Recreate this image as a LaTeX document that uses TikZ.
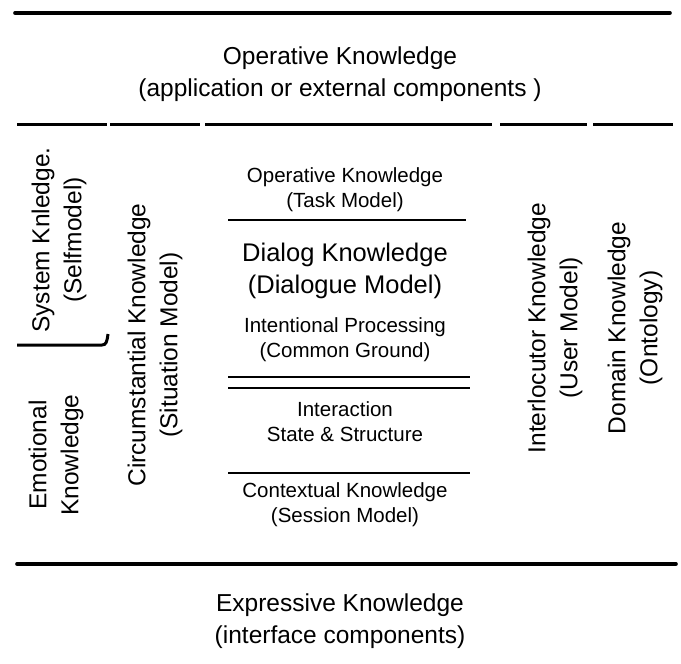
\documentclass[tikz,border=0pt]{standalone}
\usepackage{fontspec}
\setmainfont{Liberation Sans}
\begin{document}
\begin{tikzpicture}[x=1pt,y=-1pt,
  big/.style={font=\fontsize{24.5}{32}\selectfont, align=center, inner sep=0pt},
  dlg/.style={font=\fontsize{25.5}{32}\selectfont, align=center, inner sep=0pt},
  small/.style={font=\fontsize{20.5}{25}\selectfont, align=center, inner sep=0pt},
  side/.style={font=\fontsize{24.5}{32}\selectfont, align=center, inner sep=0pt, rotate=90},
  heavy/.style={line width=3.6pt, line cap=round},
  seg/.style={line width=3pt, line cap=butt},
  thin/.style={line width=1.6pt}]
\useasboundingbox (0,0) rectangle (681,664);
% frame lines
\draw[heavy] (15,13) -- (670,13);
\draw[seg] (17,124) -- (107,124);
\draw[seg] (110,124) -- (200,124);
\draw[seg] (205,124) -- (492,124);
\draw[seg] (500,124) -- (587,124);
\draw[seg] (593,124) -- (673,124);
\draw[seg] (17,345) -- (102,345) .. controls (106,345) and (107,342) .. (108,334);
\draw[heavy] (17,564) -- (676,564);
% centre separators
\draw[thin] (228,220) -- (466,220);
\draw[thin] (228,377) -- (470,377);
\draw[thin] (228,388) -- (470,388);
\draw[thin] (228,473) -- (470,473);
% texts
\node[big] (top) at (340,74) {Operative Knowledge\\(application or external components )};
\node[big] (bot) at (340,621) {Expressive Knowledge\\(interface components)};
\node[side] (sys) at (59,240) {System Knledge.\\(Selfmodel)};
\node[side] (emo) at (56,455) {Emotional\\Knowledge};
\node[side] (circ) at (155,345) {Circumstantial Knowledge\\(Situation Model)};
\node[side] (inter) at (555,328) {Interlocutor Knowledge\\(User Model)};
\node[side] (dom) at (635,328) {Domain Knowledge\\(Ontology)};
\node[small] (task) at (345,190) {Operative Knowledge\\(Task Model)};
\node[dlg] (dial) at (345,271) {Dialog Knowledge\\(Dialogue Model)};
\node[small] (intent) at (345,340) {Intentional Processing\\(Common Ground)};
\node[small] (state) at (345,422) {Interaction\\State \& Structure};
\node[small] (ctx) at (345,505) {Contextual Knowledge\\(Session Model)};
\end{tikzpicture}
\end{document}
